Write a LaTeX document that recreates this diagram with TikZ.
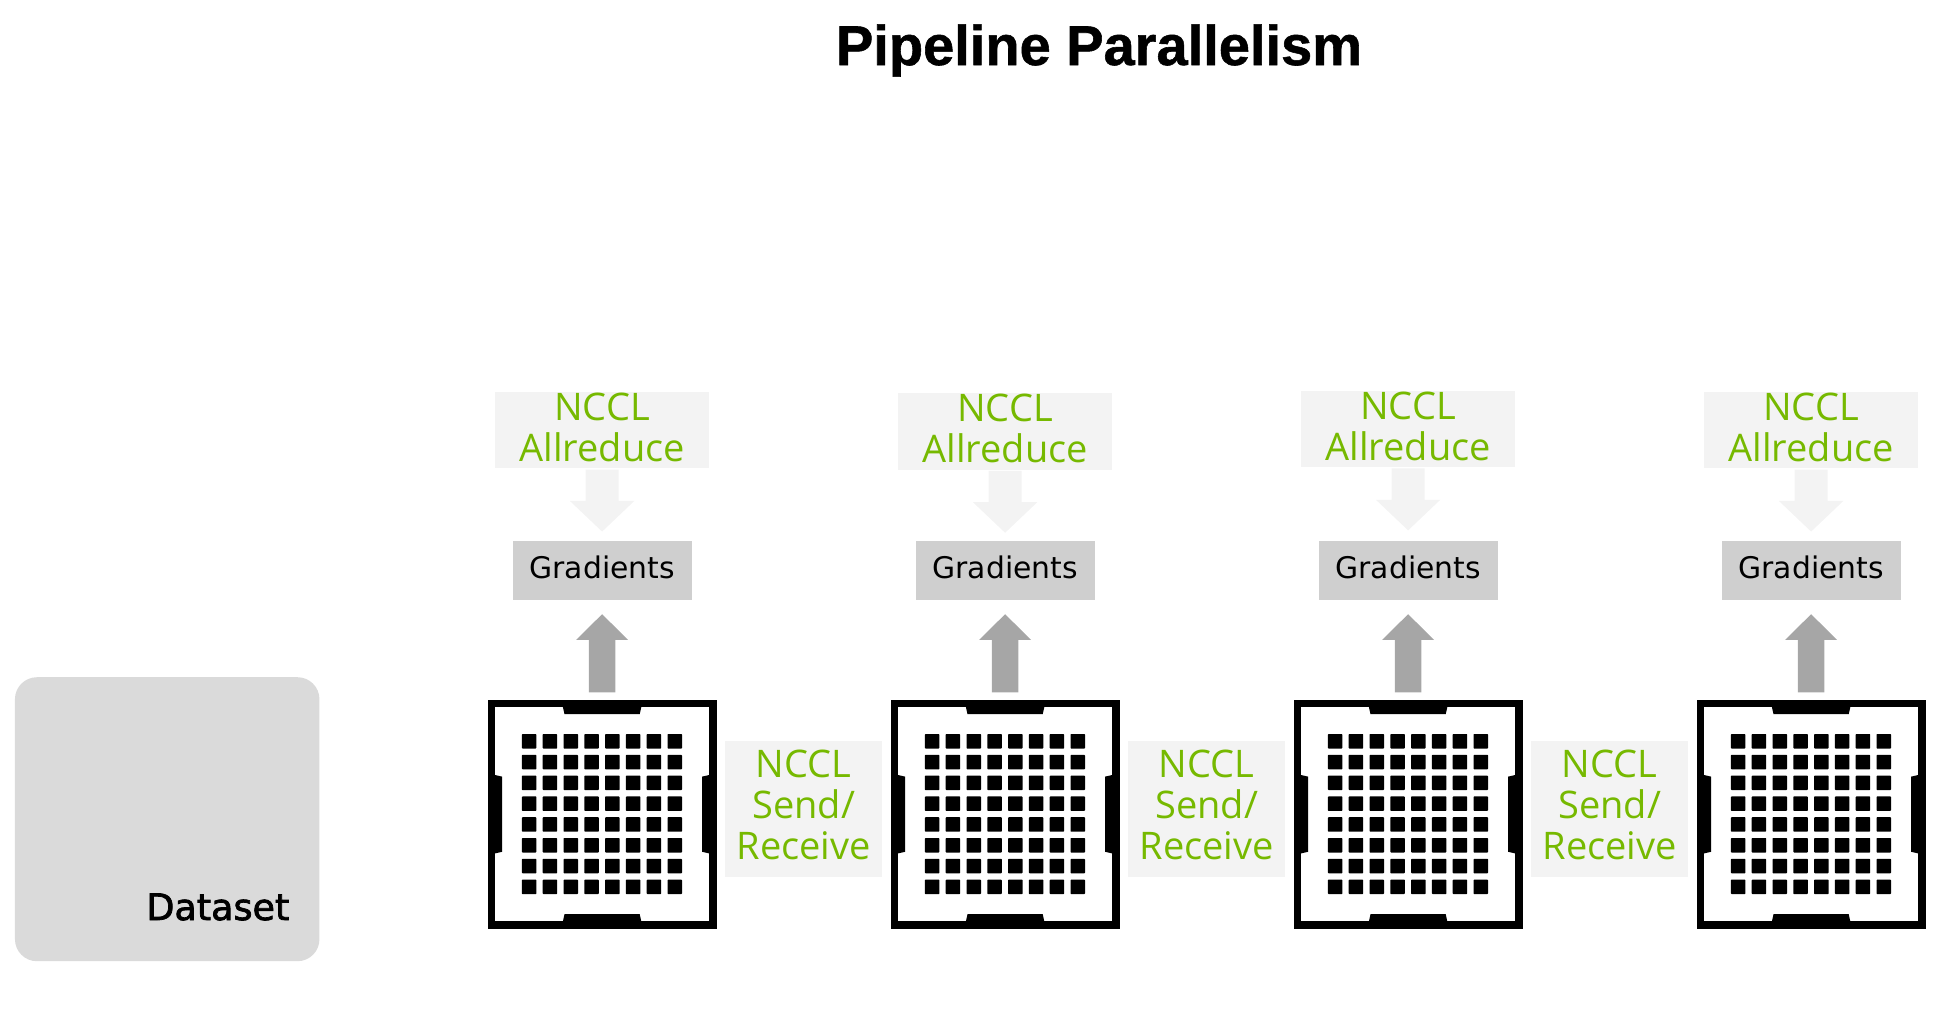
\documentclass[tikz,border=0pt]{standalone}
\usetikzlibrary{calc}
\usepackage{fontspec}
\setmainfont{Liberation Sans}
\newfontfamily\greenfont{Open Sans}
\newfontfamily\labelfont{DejaVu Sans}
\newfontfamily\datafont[RawFeature={embolden=2}]{DejaVu Sans}
\newfontfamily\titlefont[RawFeature={embolden=1}]{Liberation Sans Bold}
\definecolor{nvgreen}{HTML}{76B900}
\definecolor{lightbox}{HTML}{F3F3F3}
\definecolor{gradbox}{HTML}{CFCFCF}
\definecolor{uparrow}{HTML}{A6A6A6}
\definecolor{dataset}{HTML}{DADADA}
\tikzset{
  x=1pt,y=-1pt,
  chipbox/.style={draw=black,line width=7.5pt,fill=white,minimum width=221.5pt,minimum height=221.5pt,inner sep=0pt,outer sep=3.75pt},
  pad/.style={fill=black},
  cell/.style={fill=black,rounded corners=0.7pt},
  nccltext/.style={text=nvgreen,font=\greenfont\fontsize{38}{41}\selectfont,align=center,inner sep=0pt},
  nccl/.style={fill=lightbox,inner sep=0pt},
  gradnode/.style={fill=gradbox,minimum width=179pt,minimum height=58.5pt,inner sep=0pt,font=\labelfont\fontsize{29.8}{32}\selectfont,text=black,text height=15.2pt,text depth=0pt},
  lightarrow/.style={fill=lightbox},
  grayarrow/.style={fill=uparrow},
}
\begin{document}
\begin{tikzpicture}
\useasboundingbox (0,0) rectangle (1945,1013);
\node[anchor=base,font=\titlefont\fontsize{56}{60}\selectfont] (title) at (1099,65) {Pipeline Parallelism};
\node[fill=dataset,rounded corners=22pt,minimum width=304.5pt,minimum height=284pt,inner sep=0pt] (data) at (167.2,819.2) {};
\node[anchor=base east,font=\datafont\fontsize{36.5}{40}\selectfont,inner sep=0pt] (datatext) at (289.5,920) {Dataset};
\foreach \i/\cx/\dy in {1/602.1/0,2/1005.1/1.2,3/1408.1/-1.2,4/1811.1/0}{
  % chip
  \node[chipbox] (chip\i) at (\cx,814.2) {};
  \begin{scope}[shift={(chip\i.center)}]
    \fill[pad] (-39.4,-108) -- (39.4,-108) -- (37.6,-100) -- (-37.6,-100) -- cycle;
    \fill[pad] (-39.4,108) -- (39.4,108) -- (37.6,100) -- (-37.6,100) -- cycle;
    \fill[pad] (-108,-39.4) -- (-108,39.4) -- (-100,37.6) -- (-100,-37.6) -- cycle;
    \fill[pad] (108,-39.4) -- (108,39.4) -- (100,37.6) -- (100,-37.6) -- cycle;
    \foreach \a in {0,...,7}\foreach \b in {0,...,7}{
      \fill[cell] ({-80.2+20.8*\a},{-80.2+20.8*\b}) rectangle ++(14.5,14.5);
    }
  \end{scope}
  % gradients
  \node[gradnode] (grad\i) at (\cx,570.4) {Gradients};
  % arrow chip -> gradients
  \fill[grayarrow] (chip\i.north) ++(-13.2,-7.3) -- ++(0,-52.5) -- ++(-12.8,0) -- ++(26,-25.7) -- ++(26,25.7) -- ++(-12.8,0) -- ++(0,52.5) -- cycle;
  % allreduce
  \node[nccl,minimum width=213.7pt,minimum height=76.3pt] (all\i) at (\cx,{430.2+\dy}) {};
  \node[nccltext,anchor=center] (alltext\i) at (\cx,{427.7+\dy}) {NCCL\\Allreduce};
  \fill[lightarrow] (all\i.south) ++(-16.5,1) -- ++(0,31.4) -- ++(-15.7,0) -- ++(32.2,30.6) -- ++(32.2,-30.6) -- ++(-15.7,0) -- ++(0,-31.4) -- cycle;
}
\foreach \i/\j in {1/2,2/3,3/4}{
  \node[nccl,minimum width=157.3pt,minimum height=136pt] (sr\i) at ($(chip\i.east)!0.5!(chip\j.west)+(0,-5.5)$) {};
  \node[nccltext] (srtext\i) at ($(sr\i)+(0,-3.9)$) {NCCL\\Send/\\Receive};
}
\end{tikzpicture}
\end{document}
